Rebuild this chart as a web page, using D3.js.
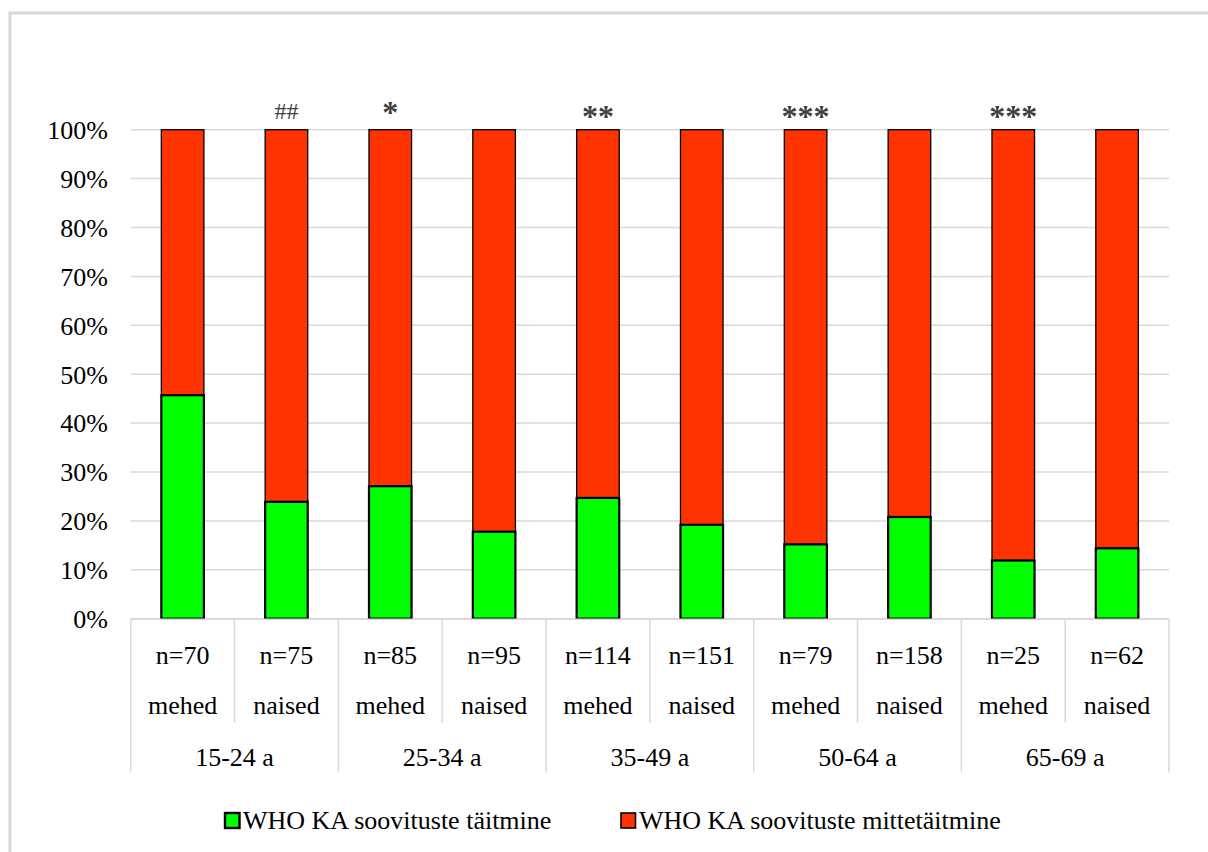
<!DOCTYPE html>
<html>
<head>
<meta charset="utf-8">
<script src="https://cdn.jsdelivr.net/npm/d3@7"></script>
<style>
  html, body { margin: 0; padding: 0; background: #fff; }
  svg { display: block; }
</style>
</head>
<body>
<svg id="chart" width="1208" height="852"></svg>
<script>
// Share of respondents meeting the WHO physical activity recommendation, by age group and sex
const ageGroups = ["15-24 a", "25-34 a", "35-49 a", "50-64 a", "65-69 a"];
const sexes = ["mehed", "naised", "mehed", "naised", "mehed", "naised", "mehed", "naised", "mehed", "naised"];
const sampleSizes = [70, 75, 85, 95, 114, 151, 79, 158, 25, 62];
const meetsShare = [45.7, 23.9, 27.1, 17.8, 24.7, 19.2, 15.2, 20.8, 11.9, 14.4];
const missShare = meetsShare.map(v => 100 - v);
const significance = ["", "##", "*", "", "**", "", "***", "", "***", ""];
const yTicks = [0, 10, 20, 30, 40, 50, 60, 70, 80, 90, 100];
const seriesNames = ["WHO KA soovituste täitmine", "WHO KA soovituste mittetäitmine"];
const seriesColors = ["#00FF00", "#FF3300"];

const FONT = "Liberation Serif, Times New Roman, serif";
const svg = d3.select("#chart").attr("font-family", FONT);
const grid = "#D9D9D9";

// outer frame
svg.append("rect")
  .attr("x", 10).attr("y", 13).attr("width", 1260).attr("height", 900)
  .attr("fill", "none").attr("stroke", grid).attr("stroke-width", 3);

const plotLeft = 130.7, plotRight = 1169, plotTop = 129.7, plotBottom = 618.7;
const bars = d3.range(sexes.length);

const x = d3.scaleBand().domain(bars).range([plotLeft, plotRight]).padding(0);
const y = d3.scaleLinear().domain([0, 100]).range([plotBottom, plotTop]);
const barW = x.bandwidth() * 0.41;

// horizontal gridlines
svg.append("g").selectAll("line").data(yTicks).join("line")
  .attr("x1", plotLeft).attr("x2", plotRight)
  .attr("y1", d => y(d)).attr("y2", d => y(d))
  .attr("stroke", grid).attr("stroke-width", 1.5);

// y axis labels
const yAxis = d3.axisLeft(y).tickValues(yTicks).tickFormat(d => d + "%").tickSize(0).tickPadding(0);
const yg = svg.append("g").attr("transform", "translate(108,0)").call(yAxis)
  .attr("font-family", FONT).attr("font-size", 26);
yg.select(".domain").remove();
yg.selectAll("text").attr("fill", "#000").attr("dy", "0.34em");

// stacked bars: green (meets) at bottom, red (does not meet) on top
const barG = svg.append("g");
barG.selectAll("rect.miss").data(bars).join("rect")
  .attr("class", "miss")
  .attr("x", i => x(i) + (x.bandwidth() - barW) / 2)
  .attr("width", barW)
  .attr("y", i => y(meetsShare[i] + missShare[i]))
  .attr("height", i => y(meetsShare[i]) - y(meetsShare[i] + missShare[i]))
  .attr("fill", seriesColors[1]).attr("stroke", "#000").attr("stroke-width", 1.3);
barG.selectAll("rect.meet").data(bars).join("rect")
  .attr("class", "meet")
  .attr("x", i => x(i) + (x.bandwidth() - barW) / 2)
  .attr("width", barW)
  .attr("y", i => y(meetsShare[i]))
  .attr("height", i => y(0) - y(meetsShare[i]))
  .attr("fill", seriesColors[0]).attr("stroke", "#000").attr("stroke-width", 2.2);

// significance markers above bars
svg.append("g").selectAll("text").data(bars).join("text")
  .attr("font-family", FONT)
  .attr("x", i => x(i) + x.bandwidth() / 2)
  .attr("y", i => y(100) - (significance[i] === "##" ? 11 : significance[i] === "*" ? 7 : 3))
  .attr("text-anchor", "middle")
  .attr("font-size", i => significance[i] === "##" ? 24 : 32)
  .attr("font-weight", i => significance[i].startsWith("*") ? "bold" : "normal")
  .attr("letter-spacing", i => significance[i].startsWith("*") ? 0 : 0)
  .attr("fill", "#404040")
  .text(i => significance[i]);

// category axis: line, separators and labels
const axG = svg.append("g").attr("font-family", FONT);
axG.append("line").attr("x1", plotLeft).attr("x2", plotRight)
  .attr("y1", plotBottom + 0.5).attr("y2", plotBottom + 0.5)
  .attr("stroke", grid).attr("stroke-width", 1.5);
const bounds = d3.range(sexes.length + 1);
axG.selectAll("line.sep").data(bounds).join("line")
  .attr("class", "sep")
  .attr("x1", i => plotLeft + i * x.step()).attr("x2", i => plotLeft + i * x.step())
  .attr("y1", plotBottom).attr("y2", i => (i % 2 === 0) ? 772.5 : 722.5)
  .attr("stroke", grid).attr("stroke-width", 1.5);

axG.selectAll("text.n").data(bars).join("text")
  .attr("class", "n")
  .attr("x", i => x(i) + x.bandwidth() / 2).attr("y", 663.6)
  .attr("text-anchor", "middle").attr("font-size", 26).attr("fill", "#000")
  .text(i => "n=" + sampleSizes[i]);
axG.selectAll("text.sex").data(bars).join("text")
  .attr("class", "sex")
  .attr("x", i => x(i) + x.bandwidth() / 2).attr("y", 713.6)
  .attr("text-anchor", "middle").attr("font-size", 26).attr("fill", "#000")
  .text(i => sexes[i]);
axG.selectAll("text.age").data(ageGroups).join("text")
  .attr("class", "age")
  .attr("x", (d, g) => plotLeft + (2 * g + 1) * x.step()).attr("y", 766)
  .attr("text-anchor", "middle").attr("font-size", 26).attr("fill", "#000")
  .text(d => d);

// legend
const legend = svg.append("g").attr("font-family", FONT);
const legendX = [225, 621];
seriesNames.forEach((name, k) => {
  legend.append("rect")
    .attr("x", legendX[k]).attr("y", 813).attr("width", 14.5).attr("height", 15)
    .attr("fill", seriesColors[k]).attr("stroke", "#000").attr("stroke-width", k === 0 ? 2.4 : 1.6);
  legend.append("text")
    .attr("x", legendX[k] + 18).attr("y", 829)
    .attr("font-size", 26).attr("fill", "#000")
    .text(name);
});
</script>
</body>
</html>
